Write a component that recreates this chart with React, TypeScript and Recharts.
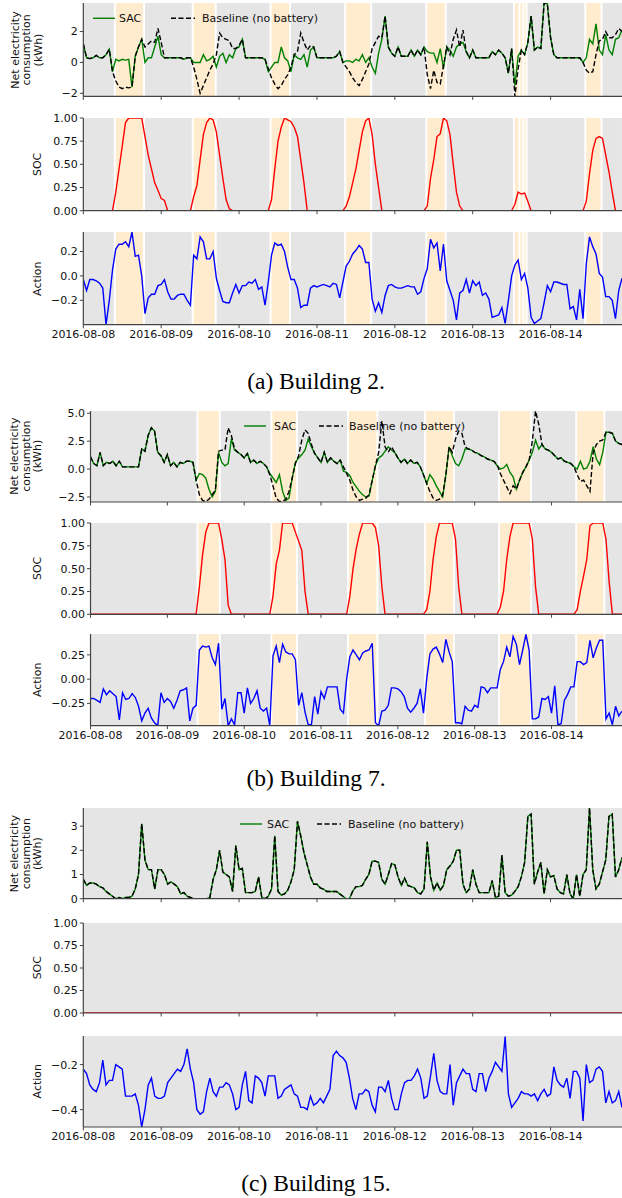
import React from 'react';
import { LineChart, Line, XAxis, YAxis, ReferenceArea } from 'recharts';

// hourly values, 2016-08-08 00:00 onwards
const B2_BASE = [
  1.2, 0.3, 0.25, 0.3, 0.45, 0.3, 0.3, 0.5, 0.85, -0.6,
  -1.2, -1.6, -1.7, -1.6, -1.65, -1.6, 0.4, 1.0, 1.5, 1.0,
  1.2, 1.4, 1.3, 2.2, 1.3, 0.3, 0.3, 0.3, 0.3, 0.3,
  0.3, 0.2, 0.3, 0.3, -0.3, -1.1, -2.0, -1.5, -1.0, -0.5,
  -0.1, 0.5, 1.9, 1.6, 1.5, 1.4, 0.9, 0.9, 1.1, 1.5,
  0.3, 0.3, 0.3, 0.3, 0.3, 0.3, 0.2, -0.4, -1.0, -1.4,
  -1.7, -1.5, -1.1, -0.8, -0.3, 0.5, 0.7, 1.9, 1.3, 0.8,
  1.1, 1.0, 0.3, 0.3, 0.3, 0.3, 0.3, 0.3, 0.4, 0.7,
  0.0, -0.3, -0.6, -1.0, -1.3, -1.5, -1.1, -0.6, -0.1, 0.9,
  1.3, 1.7, 1.6, 3.0, 1.0, 0.6, 0.4, 1.0, 0.4, 0.4,
  0.4, 0.8, 0.4, 0.8, 0.5, 1.0, -0.8, -1.7, -0.5, -1.3,
  -1.4, -0.2, 1.0, 0.5, 1.5, 2.1, 1.0, 2.1, 0.7, 0.3,
  0.8, 0.3, 0.3, 0.3, 0.3, 0.3, 0.7, 0.5, 0.8, 0.6,
  0.3, -0.7, 0.9, -2.2, -0.4, 0.8, 0.5, 1.3, 3.0, 0.8,
  1.0, 0.9, 3.85, 3.8, 1.6, 0.5, 0.3, 0.3, 0.3, 0.3,
  0.3, 0.3, 0.3, 0.3, 0.0, -0.5, -0.7, -0.6, 0.5, 1.4,
  1.5, 2.0, 1.6, 1.6, 1.8, 2.2, 2.0,
];
const B2_SAC = [
  1.2, 0.3, 0.25, 0.3, 0.45, 0.3, 0.3, 0.5, 0.85, -0.6,
  0.2, 0.1, 0.2, 0.15, 0.2, -1.6, 0.4, 1.0, 1.5, 0.0,
  0.3, 0.3, 1.0, 1.7, 0.5, 0.3, 0.3, 0.3, 0.3, 0.3,
  0.3, 0.2, 0.3, 0.3, 0.0, 0.0, 0.0, 0.5, 0.1, 0.2,
  0.4, -0.3, 0.4, 0.6, 0.0, 0.5, 0.3, 0.9, 1.0, 1.5,
  0.3, 0.3, 0.3, 0.3, 0.3, 0.3, 0.2, -0.6, -0.3, 0.0,
  0.0, 1.0, 0.3, 0.1, -0.6, 0.5, 0.3, 0.2, 0.5, -0.3,
  0.8, 1.0, 0.3, 0.3, 0.3, 0.3, 0.3, 0.3, 0.4, 0.7,
  0.0, 0.1, 0.1, 0.0, 0.2, 0.1, 0.5, 0.0, 0.3, -0.3,
  -0.7, 0.6, 1.5, 3.0, 1.0, 0.6, 0.4, 1.0, 0.4, 0.4,
  0.4, 0.8, 0.4, 0.8, 0.5, 1.0, 0.7, 0.6, 0.6, 0.0,
  0.9, -0.4, 1.0, 0.8, 0.4, 1.0, 1.2, 1.3, 0.7, 0.3,
  0.8, 0.3, 0.3, 0.3, 0.3, 0.3, 0.7, 0.5, 0.8, 0.6,
  0.3, -0.7, 0.9, -1.5, 0.4, 0.8, 0.5, 1.3, 3.0, 0.8,
  1.0, 0.9, 3.85, 3.8, 1.6, 0.5, 0.3, 0.3, 0.3, 0.3,
  0.3, 0.3, 0.3, 0.3, 0.0, 0.3, 1.5, 1.2, 2.5, 0.8,
  0.5, 1.8, 0.8, 0.5, 1.5, 1.6, 2.1,
];
const B2_SOC = [
  0, 0, 0, 0, 0, 0, 0, 0, 0, 0,
  0.2, 0.45, 0.7, 0.95, 1, 1, 1, 1, 1, 0.8,
  0.6, 0.45, 0.3, 0.22, 0.13, 0.11, 0, 0, 0, 0,
  0, 0, 0, 0, 0.15, 0.27, 0.55, 0.82, 0.95, 1,
  0.98, 0.85, 0.6, 0.35, 0.12, 0.02, 0, 0, 0, 0,
  0, 0, 0, 0, 0, 0, 0, 0, 0.12, 0.45,
  0.75, 0.9, 1, 0.98, 0.96, 0.9, 0.8, 0.55, 0.3, 0,
  0, 0, 0, 0, 0, 0, 0, 0, 0, 0,
  0, 0.05, 0.15, 0.3, 0.45, 0.65, 0.85, 0.97, 1, 0.82,
  0.5, 0.25, 0, 0, 0, 0, 0, 0, 0, 0,
  0, 0, 0, 0, 0, 0, 0.05, 0.35, 0.55, 0.8,
  0.83, 1, 0.97, 0.82, 0.5, 0.2, 0.05, 0, 0, 0,
  0, 0, 0, 0, 0, 0, 0, 0, 0, 0,
  0, 0, 0, 0.07, 0.2, 0.18, 0.19, 0.1, 0, 0,
  0, 0, 0, 0, 0, 0, 0, 0, 0, 0,
  0, 0, 0, 0, 0, 0.1, 0.4, 0.65, 0.78, 0.8,
  0.78, 0.6, 0.42, 0.2, 0, 0, 0,
];
const B2_ACT = [
  -0.03, -0.12, -0.03, -0.03, -0.04, -0.06, -0.1, -0.4, -0.2, 0.05,
  0.22, 0.26, 0.26, 0.28, 0.24, 0.36, 0.16, 0.17, 0.0, -0.31,
  -0.18, -0.15, -0.15, -0.08, -0.07, -0.03, -0.13, -0.19, -0.19, -0.16,
  -0.15, -0.15, -0.2, -0.24, 0.17, 0.14, 0.32, 0.28, 0.14, 0.14,
  0.2, -0.02, -0.12, -0.21, -0.22, -0.22, -0.14, -0.07, -0.14, -0.08,
  -0.08, -0.05, -0.06, -0.03, -0.11, -0.09, -0.24, -0.05, 0.17, 0.27,
  0.25, 0.26, 0.2, 0.07, -0.03, -0.03, -0.1, -0.26, -0.24, -0.24,
  -0.1, -0.08, -0.09, -0.08, -0.07, -0.08, -0.09, -0.06, -0.07, -0.18,
  -0.05, 0.08, 0.12, 0.18, 0.21, 0.25, 0.22, 0.11, 0.11, -0.19,
  -0.29, -0.22, -0.3, -0.16, -0.08, -0.07, -0.09, -0.1, -0.1, -0.09,
  -0.08, -0.09, -0.09, -0.15, -0.13, -0.02, 0.06, 0.3, 0.23, 0.27,
  0.04, 0.26, -0.04, -0.12, -0.2, -0.36, -0.14, -0.12, -0.03, -0.14,
  -0.04, -0.08, -0.05, -0.16, -0.14, -0.19, -0.34, -0.33, -0.32, -0.26,
  -0.39, -0.2, 0.0, 0.09, 0.13, -0.03, 0.02, -0.1, -0.34, -0.39,
  -0.37, -0.35, -0.22, -0.08, -0.13, -0.05, -0.05, -0.06, -0.07, -0.07,
  -0.27, -0.25, -0.36, -0.11, -0.35, 0.1, 0.32, 0.24, 0.18, 0.02,
  -0.01, -0.17, -0.17, -0.2, -0.35, -0.12, -0.02,
];

const B7_BASE = [
  1.1, 0.5, 0.3, 1.5, 0.3, 0.6, 0.5, 0.7, 0.3, 0.7,
  0.2, 0.2, 0.2, 0.2, 0.2, 0.2, 1.8, 1.6, 3.0, 3.7,
  3.4, 1.5, 1.2, 0.6, 1.3, 0.3, 0.6, 0.2, 0.6, 0.5,
  0.7, 0.7, 0.6, -1.0, -2.3, -2.8, -2.9, -2.7, -2.3, -1.9,
  1.6, 1.7, 1.7, 3.7, 3.0, 1.8, 1.5, 1.3, 1.0, 1.4,
  0.6, 0.8, 0.5, 0.7, 0.5, 0.2, -0.5, -1.5, -2.6, -2.9,
  -2.9, -2.7, -2.0, -0.8, 0.5, 1.2, 2.6, 3.5, 3.2, 2.2,
  1.4, 1.0, 0.6, 1.5, 0.6, 1.0, 0.7, 0.5, 0.8, 0.2,
  -0.4, -1.0, -1.9, -2.5, -2.8, -2.7, -2.6, -2.3, -1.0, 0.3,
  1.5, 4.3, 2.0, 1.5, 2.0, 1.5, 1.0, 0.6, 0.9, 0.5,
  0.8, 0.5, 0.6, 0.2, -0.5, -1.3, -2.0, -2.6, -2.8, -2.7,
  -2.3, -0.5, 2.0, 1.5, 2.7, 3.4, 3.2, 2.0, 1.8, 1.7,
  1.5, 1.4, 1.2, 1.1, 0.9, 0.8, 0.7, 0.4, -0.4, -1.0,
  -1.6, -2.2, -1.5, -1.8, -1.0, -0.3, 0.2, 0.8, 2.5, 5.2,
  4.0, 2.2, 1.8, 1.7, 1.5, 1.2, 0.9, 1.0, 0.7, 0.6,
  0.5, 0.2, -0.5, -1.1, -1.0, -1.5, -2.0, 1.5, 2.2, 2.5,
  2.6, 3.3, 3.3, 3.2, 2.5, 2.3, 2.2,
];
const B7_SAC = [
  1.1, 0.5, 0.3, 1.5, 0.3, 0.6, 0.5, 0.7, 0.3, 0.7,
  0.2, 0.2, 0.2, 0.2, 0.2, 0.2, 1.8, 1.6, 3.0, 3.7,
  3.4, 1.5, 1.2, 0.6, 1.3, 0.3, 0.6, 0.2, 0.6, 0.5,
  0.7, 0.7, 0.6, -1.0, -0.4, -0.5, -0.8, -1.8, -2.5, -2.0,
  1.5, 0.6, 0.3, 0.5, 2.7, 1.7, 1.5, 1.3, 1.0, 1.4,
  0.6, 0.8, 0.5, 0.7, 0.5, 0.2, -0.4, -0.8, -1.2, -0.5,
  -2.0, -2.8, -2.6, -0.8, 0.6, 1.0, 1.3, 1.7, 2.7, 2.0,
  1.4, 1.0, 0.6, 1.5, 0.6, 1.0, 0.7, 0.5, 0.8, -0.2,
  -0.3, -0.6, -1.2, -1.6, -2.0, -2.3, -2.5, -2.4, -1.0, 0.3,
  1.0, 1.2, 1.6, 2.0, 1.7, 1.5, 1.0, 0.6, 0.9, 0.5,
  0.8, 0.5, 0.6, 0.2, -0.5, -1.3, -0.5, -0.9, -1.5, -2.0,
  -2.5, -0.5, 2.0, 1.2, 0.5, 0.3, 0.9, 1.8, 1.8, 1.7,
  1.5, 1.4, 1.2, 1.1, 0.9, 0.8, 0.7, 0.3, 0.0, 0.1,
  0.4, -0.3, -0.7, -1.8, -1.0, -0.3, 0.2, 0.8, 1.5, 2.6,
  1.8, 2.2, 1.8, 1.7, 1.5, 1.2, 0.9, 1.0, 0.7, 0.6,
  0.5, 0.2, 0.0, 0.7, 0.0, 0.1, 0.7, 2.0, 0.9, 0.4,
  1.5, 3.3, 3.3, 3.2, 2.5, 2.3, 2.2,
];
const B7_SOC = [
  0, 0, 0, 0, 0, 0, 0, 0, 0, 0,
  0, 0, 0, 0, 0, 0, 0, 0, 0, 0,
  0, 0, 0, 0, 0, 0, 0, 0, 0, 0,
  0, 0, 0, 0, 0.3, 0.65, 0.9, 1, 1, 1,
  1, 0.82, 0.6, 0.1, 0, 0, 0, 0, 0, 0,
  0, 0, 0, 0, 0, 0, 0, 0.2, 0.55, 0.7,
  1, 1, 1, 1, 0.9, 0.8, 0.7, 0.25, 0, 0,
  0, 0, 0, 0, 0, 0, 0, 0, 0, 0,
  0, 0.2, 0.5, 0.72, 0.88, 1, 1, 1, 1, 0.95,
  0.75, 0.3, 0, 0, 0, 0, 0, 0, 0, 0,
  0, 0, 0, 0, 0, 0.05, 0.25, 0.6, 0.85, 1,
  1, 1, 1, 1, 0.82, 0.3, 0, 0, 0, 0,
  0, 0, 0, 0, 0, 0, 0, 0, 0.08, 0.25,
  0.6, 0.85, 1, 1, 1, 1, 1, 1, 0.82, 0.3,
  0, 0, 0, 0, 0, 0, 0, 0, 0, 0,
  0, 0, 0.05, 0.25, 0.42, 0.6, 0.97, 1, 1, 1,
  1, 0.82, 0.35, 0, 0, 0, 0,
];
const B7_ACT = [
  -0.2, -0.2, -0.22, -0.24, -0.1, -0.16, -0.12, -0.15, -0.18, -0.42,
  -0.14, -0.21, -0.2, -0.15, -0.19, -0.28, -0.43, -0.35, -0.3, -0.4,
  -0.45, -0.48, -0.14, -0.24, -0.2, -0.23, -0.3, -0.22, -0.12, -0.11,
  -0.09, -0.43, -0.3, -0.27, 0.3, 0.34, 0.33, 0.34, 0.22, 0.15,
  0.37, -0.31, -0.2, -0.48, -0.41, -0.47, -0.14, -0.14, -0.35, -0.09,
  -0.25, -0.2, -0.12, -0.3, -0.33, -0.3, -0.48, 0.24, 0.34, 0.17,
  0.36, 0.28, 0.26, 0.26, 0.2, -0.27, -0.14, -0.34, -0.47, -0.47,
  -0.18, -0.36, -0.13, -0.2, -0.08, -0.08, -0.08, -0.08, -0.31, -0.35,
  0.0, 0.23, 0.3, 0.25, 0.2, 0.27, 0.29, 0.3, 0.37, -0.45,
  -0.48, -0.33, -0.32, -0.27, -0.09, -0.09, -0.1, -0.13, -0.18, -0.3,
  -0.34, -0.3, -0.25, -0.1, -0.35, 0.0, 0.26, 0.31, 0.33, 0.26,
  0.17, 0.41, 0.28, 0.18, -0.45, -0.45, -0.46, -0.28, -0.32, -0.33,
  -0.27, -0.29, -0.08, -0.09, -0.14, -0.09, -0.09, -0.09, 0.1, 0.18,
  0.33, 0.23, 0.44, 0.36, 0.15, 0.3, 0.46, 0.3, -0.41, -0.41,
  -0.39, -0.2, -0.21, -0.18, -0.35, -0.07, -0.47, -0.46, -0.22, -0.16,
  -0.08, -0.08, 0.18, 0.18, 0.15, 0.17, 0.4, 0.22, 0.32, 0.4,
  0.4, -0.41, -0.35, -0.47, -0.28, -0.38, -0.33,
];

const B15_NET = [
  0.8, 0.55, 0.65, 0.65, 0.6, 0.5, 0.45, 0.3, 0.2, 0.1,
  0.0, 0.05, 0.0, 0.05, 0.05, 0.1, 0.4, 1.0, 3.1, 1.6,
  1.2, 1.2, 0.4, 1.2, 1.2, 1.0, 0.6, 0.7, 0.6, 0.5,
  0.2, 0.25, 0.1, 0.05, 0.0, 0.0, 0.0, 0.0, 0.0, 0.05,
  0.8, 1.2, 2.0, 1.1, 1.0, 0.9, 0.3, 2.2, 1.2, 1.25,
  0.25, 0.25, 0.25, 0.3, 0.9, 0.05, 0.0, 0.1, 0.4, 2.6,
  0.3, 0.15, 0.2, 0.35, 0.7, 1.2, 3.2, 2.6, 1.9, 1.4,
  0.9, 0.6, 0.6, 0.45, 0.4, 0.3, 0.3, 0.3, 0.3, 0.2,
  0.1, 0.0, 0.0, 0.3, 0.5, 0.5, 0.55, 0.8, 1.0, 1.55,
  1.55, 1.5, 0.8, 0.6, 1.0, 1.45, 1.4, 0.9, 0.55, 0.85,
  0.55, 0.5, 0.45, 0.25, 0.2, 0.4, 2.35, 0.9, 0.35, 0.65,
  0.35, 0.55, 1.2, 1.35, 1.55, 2.0, 2.0, 0.6, 0.25, 0.4,
  1.2, 0.6, 0.25, 0.25, 0.25, 0.25, 0.75, 0.05, 0.1, 1.8,
  0.25, 0.1, 0.15, 0.3, 0.5, 0.9, 1.5, 3.4, 3.5, 0.6,
  1.1, 1.5, 0.2, 1.2, 0.9, 0.95, 0.4, 0.25, 0.2, 1.0,
  0.2, 0.0, 1.0, 0.1, 1.0, 1.2, 3.75, 1.2, 0.4, 0.6,
  1.1, 1.6, 3.4, 3.5, 0.9, 1.2, 1.7,
];
const B15_SOC = B15_NET.map(() => 0);
const B15_ACT = [
  -0.22, -0.24, -0.29, -0.31, -0.32, -0.28, -0.18, -0.29, -0.27, -0.27,
  -0.2, -0.21, -0.22, -0.34, -0.34, -0.34, -0.33, -0.38, -0.477, -0.4,
  -0.29, -0.26, -0.34, -0.35, -0.35, -0.34, -0.28, -0.26, -0.24, -0.22,
  -0.23, -0.2, -0.13, -0.22, -0.28, -0.4, -0.42, -0.41, -0.32, -0.26,
  -0.32, -0.34, -0.3, -0.3, -0.28, -0.29, -0.33, -0.4, -0.39, -0.29,
  -0.23, -0.36, -0.37, -0.25, -0.26, -0.28, -0.34, -0.25, -0.25, -0.25,
  -0.35, -0.34, -0.31, -0.3, -0.29, -0.33, -0.34, -0.39, -0.39, -0.4,
  -0.34, -0.38, -0.37, -0.35, -0.37, -0.34, -0.31, -0.16, -0.14, -0.16,
  -0.17, -0.19, -0.26, -0.35, -0.4, -0.33, -0.33, -0.31, -0.32, -0.38,
  -0.41, -0.3, -0.3, -0.32, -0.27, -0.35, -0.4, -0.4, -0.33, -0.28,
  -0.27, -0.27, -0.25, -0.22, -0.26, -0.35, -0.34, -0.25, -0.15, -0.27,
  -0.32, -0.33, -0.33, -0.2, -0.38, -0.28, -0.25, -0.22, -0.24, -0.24,
  -0.31, -0.32, -0.24, -0.24, -0.32, -0.26, -0.23, -0.19, -0.21, -0.23,
  -0.075, -0.33, -0.39, -0.37, -0.35, -0.32, -0.33, -0.33, -0.34, -0.33,
  -0.36, -0.33, -0.31, -0.34, -0.33, -0.21, -0.27, -0.29, -0.3, -0.26,
  -0.35, -0.23, -0.23, -0.26, -0.45, -0.2, -0.28, -0.27, -0.22, -0.21,
  -0.23, -0.37, -0.32, -0.37, -0.36, -0.32, -0.39,
];

// battery charging windows (orange), in hours
const B2_BANDS = [[9.7, 18.7], [33.7, 40.8], [57.7, 63.7], [80.7, 88.7], [105.7, 111.7], [132.7, 134.4], [134.4, 135.6], [135.6, 136.6], [154.7, 159.7]];
const B7_BANDS = [[33.4, 40.4], [56.5, 64.5], [80.4, 89.6], [104.5, 113.5], [127.6, 137.6], [151.7, 160.5]];
const B15_BANDS: number[][] = [];

const DAY_TICKS = [0, 24, 48, 72, 96, 120, 144];
const DAY_LABELS = ['2016-08-08', '2016-08-09', '2016-08-10', '2016-08-11', '2016-08-12', '2016-08-13', '2016-08-14'];

const X_MAX = 166;
const GRAY = '#e5e5e5';
const ORANGE = '#ffebcd';
const FONT = 'DejaVu Sans';

const fix = (d: number) => (v: number) => v.toFixed(d).replace('-', '\u2212');

const rowsOf = (net1: number[], net2: number[], soc: number[], act: number[]) =>
  net1.map((_, h) => ({ h, sac: net1[h], base: net2[h], soc: soc[h], act: act[h] }));

const ROWS_A = rowsOf(B2_SAC, B2_BASE, B2_SOC, B2_ACT);
const ROWS_B = rowsOf(B7_SAC, B7_BASE, B7_SOC, B7_ACT);
const ROWS_C = rowsOf(B15_NET, B15_NET, B15_SOC, B15_ACT);

const NET_LINES = [
  { key: 'sac', color: '#008000' },
  { key: 'base', color: '#000000', dash: '5 2.5' },
];
const SOC_LINES = [{ key: 'soc', color: '#ff0000' }];
const ACT_LINES = [{ key: 'act', color: '#0000ff' }];

type PanelProps = {
  top: number;
  h: number;
  axisX: number;
  domain: [number, number];
  ticks: number[];
  fmt: (v: number) => string;
  rows: any[];
  lines: { key: string; color: string; dash?: string }[];
  bands: number[][];
  dates: boolean;
};

const MT = 10;

const Panel = ({ top, h, axisX, domain, ticks, fmt, rows, lines, bands, dates }: PanelProps) => {
  const xh = dates ? 24 : 6;
  const edges = Array.from(new Set(bands.flat()));
  return (
    <div style={{ position: 'absolute', left: 0, top: top - MT }}>
      <LineChart width={622} height={MT + h + xh} data={rows} margin={{ top: MT, right: 0, bottom: 0, left: 0 }}>
        <XAxis
          type="number"
          dataKey="h"
          domain={[0, X_MAX]}
          ticks={DAY_TICKS}
          interval={0}
          allowDataOverflow
          height={xh}
          tickSize={3.5}
          tickMargin={2}
          axisLine={{ stroke: '#444', strokeWidth: 1.2 }}
          tickLine={{ stroke: '#444' }}
          tick={{ fontSize: 11, fill: '#111' }}
          tickFormatter={(v: number) => (dates ? DAY_LABELS[DAY_TICKS.indexOf(v)] : '')}
        />
        <YAxis
          type="number"
          domain={domain}
          ticks={ticks}
          interval={0}
          allowDataOverflow
          width={axisX}
          tickSize={3.5}
          tickMargin={2}
          axisLine={{ stroke: '#444', strokeWidth: 1.2 }}
          tickLine={{ stroke: '#444' }}
          tick={{ fontSize: 11, fill: '#111' }}
          tickFormatter={fmt}
        />
        <ReferenceArea x1={0} x2={X_MAX} fill={GRAY} fillOpacity={1} stroke="none" />
        {bands.map((b, i) => (
          <ReferenceArea key={'o' + i} x1={b[0]} x2={b[1]} fill={ORANGE} fillOpacity={1} stroke="none" />
        ))}
        {edges.map((e, i) => (
          <ReferenceArea key={'w' + i} x1={e - 0.3} x2={e + 0.3} fill="#ffffff" fillOpacity={1} stroke="none" />
        ))}
        {lines.map((l) => (
          <Line
            key={l.key}
            type="linear"
            dataKey={l.key}
            stroke={l.color}
            strokeWidth={1.4}
            strokeDasharray={l.dash}
            dot={false}
            activeDot={false}
            isAnimationActive={false}
          />
        ))}
      </LineChart>
    </div>
  );
};

const PANELS: PanelProps[] = [
  { top: 3.3, h: 93.4, axisX: 83.3, domain: [-2.2, 3.85], ticks: [-2, 0, 2], fmt: fix(0), rows: ROWS_A, lines: NET_LINES, bands: B2_BANDS, dates: false },
  { top: 118, h: 92.7, axisX: 83.3, domain: [0, 1], ticks: [0, 0.25, 0.5, 0.75, 1], fmt: fix(2), rows: ROWS_A, lines: SOC_LINES, bands: B2_BANDS, dates: false },
  { top: 232.3, h: 92.7, axisX: 83.3, domain: [-0.4, 0.36], ticks: [-0.2, 0, 0.2], fmt: fix(1), rows: ROWS_A, lines: ACT_LINES, bands: B2_BANDS, dates: true },
  { top: 410.7, h: 91, axisX: 90.5, domain: [-2.95, 5.2], ticks: [-2.5, 0, 2.5, 5], fmt: fix(1), rows: ROWS_B, lines: NET_LINES, bands: B7_BANDS, dates: false },
  { top: 522.7, h: 91.3, axisX: 90.5, domain: [0, 1], ticks: [0, 0.25, 0.5, 0.75, 1], fmt: fix(2), rows: ROWS_B, lines: SOC_LINES, bands: B7_BANDS, dates: false },
  { top: 634, h: 91.7, axisX: 90.5, domain: [-0.48, 0.465], ticks: [-0.25, 0, 0.25], fmt: fix(2), rows: ROWS_B, lines: ACT_LINES, bands: B7_BANDS, dates: true },
  { top: 808.3, h: 90.7, axisX: 83.3, domain: [0, 3.75], ticks: [0, 1, 2, 3], fmt: fix(0), rows: ROWS_C, lines: NET_LINES, bands: B15_BANDS, dates: false },
  { top: 922.7, h: 90, axisX: 83.3, domain: [0, 1], ticks: [0, 0.25, 0.5, 0.75, 1], fmt: fix(2), rows: ROWS_C, lines: SOC_LINES, bands: B15_BANDS, dates: false },
  { top: 1035.7, h: 91, axisX: 83.3, domain: [-0.477, -0.073], ticks: [-0.4, -0.2], fmt: fix(1), rows: ROWS_C, lines: ACT_LINES, bands: B15_BANDS, dates: true },
];

const NET_LABEL = ['Net electricity', 'consumption', '(kWh)'];

const YLabel = ({ p, idx }: { p: PanelProps; idx: number }) => {
  const cy = p.top + p.h / 2;
  const kind = idx % 3;
  if (kind === 0) {
    return (
      <g>
        {NET_LABEL.map((t, i) => {
          const cx = 15 + i * 11.5;
          return (
            <text key={t} x={cx} y={cy} transform={`rotate(-90 ${cx} ${cy})`} textAnchor="middle" dominantBaseline="central" fontSize={11} fill="#111">
              {t}
            </text>
          );
        })}
      </g>
    );
  }
  const cx = 38;
  return (
    <text x={cx} y={cy} transform={`rotate(-90 ${cx} ${cy})`} textAnchor="middle" dominantBaseline="central" fontSize={11} fill="#111">
      {kind === 1 ? 'SOC' : 'Action'}
    </text>
  );
};

const LEGENDS = [
  { y: 18.3, g: 93, s: 119, d: 171, t: 202 },
  { y: 426, g: 244, s: 274, d: 319, t: 349 },
  { y: 824, g: 240, s: 267, d: 317, t: 348 },
];

const CAPTIONS = [
  { y: 380.5, text: '(a) Building 2.' },
  { y: 778, text: '(b) Building 7.' },
  { y: 1183, text: '(c) Building 15.' },
];

export default function App() {
  return (
    <div style={{ position: 'absolute', left: 0, top: 0, width: 622, height: 1198, overflow: 'hidden', background: '#fff', fontFamily: FONT }}>
      {PANELS.map((p, i) => (
        <Panel key={i} {...p} />
      ))}
      <svg width={622} height={1198} style={{ position: 'absolute', left: 0, top: 0, pointerEvents: 'none' }} fontFamily={FONT}>
        {PANELS.map((p, i) => (
          <YLabel key={i} p={p} idx={i} />
        ))}
        {LEGENDS.map((l, i) => (
          <g key={i}>
            <line x1={l.g} x2={l.g + 22} y1={l.y} y2={l.y} stroke="#008000" strokeWidth={1.4} />
            <text x={l.s} y={l.y} dominantBaseline="central" fontSize={11} fill="#111">SAC</text>
            <line x1={l.d} x2={l.d + 24} y1={l.y} y2={l.y} stroke="#000" strokeWidth={1.4} strokeDasharray="5 2.5" />
            <text x={l.t} y={l.y} dominantBaseline="central" fontSize={11} fill="#111">Baseline (no battery)</text>
          </g>
        ))}
        {CAPTIONS.map((c) => (
          <text key={c.text} x={316} y={c.y} textAnchor="middle" dominantBaseline="central" fontFamily="Liberation Serif" fontSize={23.5} fill="#000">
            {c.text}
          </text>
        ))}
      </svg>
    </div>
  );
}
